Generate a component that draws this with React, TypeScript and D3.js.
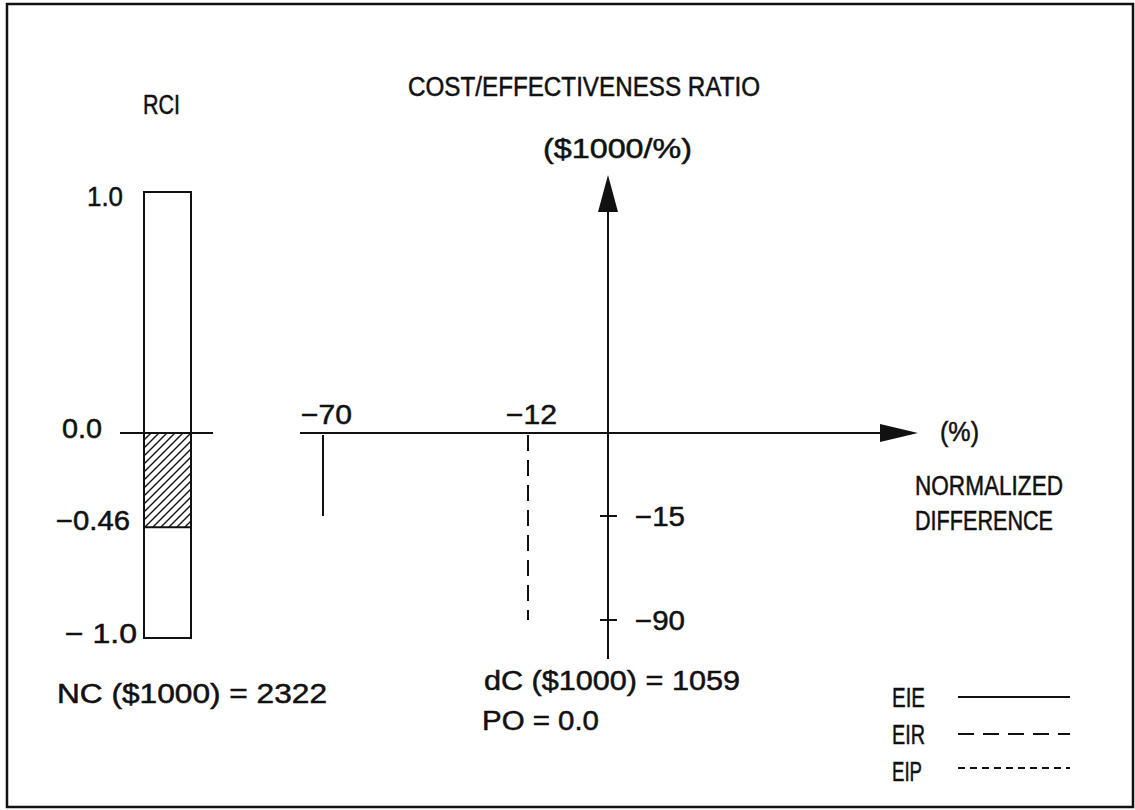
import React from "react";
import * as d3 from "d3";

// ---- data ----
const rciTickValues = [1.0, 0.0, -0.46, -1.0];
const rciTickLabels = ["1.0", "0.0", "\u22120.46", "\u2212 1.0"];
const rciValue = -0.46;

const seriesNames = ["EIE", "EIR", "EIP"];
const seriesDash = ["none", "16,9", "7,5"];
const diffValues = [-70, -12]; // normalized difference (%) for EIE, EIR
const diffLabels = ["\u221270", "\u221212"];
const ratioValues = [-15, -90]; // cost/effectiveness ratio ($1000/%)
const ratioTickValues = [-15, -90];
const ratioTickLabels = ["\u221215", "\u221290"];

const ncValue = "2322";
const dcValue = "1059";
const poValue = "0.0";

const FONT = "'Liberation Sans', Arial, sans-serif";

export default function App() {
  const W = 1135;
  const H = 810;

  // RCI column scale (schematic, piecewise)
  const rciY = d3.scaleLinear().domain([-1, 0, 1]).range([638, 433, 192]);
  // main chart scales (schematic, piecewise)
  const xS = d3.scaleLinear().domain([-70, -12, 0]).range([323, 528, 608]);
  const yS = d3.scaleLinear().domain([-90, -15, 0]).range([620, 516, 433]);

  const x0 = xS(0);
  const y0 = yS(0);
  const barX0 = 144;
  const barX1 = 191;

  const txt = (
    s: string,
    x: number,
    y: number,
    len?: number,
    size = 27,
    key?: string
  ) => (
    <text
      key={key}
      x={x}
      y={y}
      fontFamily={FONT}
      fontSize={size}
      fill="#111"
      stroke="#111"
      strokeWidth={0.5}
      textLength={len}
      lengthAdjust={len ? "spacingAndGlyphs" : undefined}
    >
      {s}
    </text>
  );

  const rciLabelPos = [
    { x: 87, w: 36, b: 206 },
    { x: 62, w: 40, b: 438 },
    { x: 56, w: 74, b: 530 },
    { x: 65, w: 72, b: 643 },
  ];

  const stroke = "#111";

  return (
    <svg
      width={W}
      height={H}
      style={{ position: "absolute", left: 0, top: 0, background: "#fff" }}
    >
      <defs>
        <pattern id="hatch" patternUnits="userSpaceOnUse" width={8} height={8}>
          <path
            d="M-2,2 l4,-4 M0,8 l8,-8 M6,10 l4,-4"
            stroke={stroke}
            strokeWidth={1.4}
          />
        </pattern>
      </defs>
      <rect x={0} y={0} width={W} height={H} fill="#fff" />
      {/* frame */}
      <rect
        x={7}
        y={4}
        width={1126}
        height={803}
        fill="none"
        stroke={stroke}
        strokeWidth={2.5}
      />

      {/* RCI column */}
      {txt("RCI", 143, 114, 37)}
      <rect
        x={barX0}
        y={rciY(1)}
        width={barX1 - barX0}
        height={rciY(-1) - rciY(1)}
        fill="none"
        stroke={stroke}
        strokeWidth={2}
      />
      <rect
        x={barX0 + 1}
        y={rciY(0)}
        width={barX1 - barX0 - 2}
        height={rciY(rciValue) - rciY(0)}
        fill="url(#hatch)"
      />
      <line
        x1={barX0}
        x2={barX1}
        y1={rciY(rciValue)}
        y2={rciY(rciValue)}
        stroke={stroke}
        strokeWidth={2}
      />
      <line
        x1={120}
        x2={213}
        y1={rciY(0)}
        y2={rciY(0)}
        stroke={stroke}
        strokeWidth={2}
      />
      {rciTickValues.map((v, i) =>
        txt(
          rciTickLabels[i],
          rciLabelPos[i].x,
          rciLabelPos[i].b,
          rciLabelPos[i].w,
          27,
          "rl" + i
        )
      )}

      {/* titles */}
      {txt("COST/EFFECTIVENESS RATIO", 408, 96, 352)}
      {txt("($1000/%)", 543, 158, 149)}

      {/* axes */}
      <line x1={300} x2={882} y1={y0} y2={y0} stroke={stroke} strokeWidth={2} />
      <polygon points={`918,${y0} 880,${y0 - 9} 880,${y0 + 9}`} fill={stroke} />
      <line x1={x0} x2={x0} y1={659} y2={210} stroke={stroke} strokeWidth={2} />
      <polygon points={`${x0},175 ${x0 - 10},212 ${x0 + 10},212`} fill={stroke} />
      {txt("(%)", 940, 441, 39)}
      {txt("NORMALIZED", 915, 495, 148)}
      {txt("DIFFERENCE", 915, 530, 138)}

      {/* y ticks */}
      {ratioTickValues.map((v, i) => (
        <g key={"yt" + i}>
          <line
            x1={x0 - 8}
            x2={x0 + 9}
            y1={yS(v)}
            y2={yS(v)}
            stroke={stroke}
            strokeWidth={2}
          />
          {txt(ratioTickLabels[i], 635, yS(v) + 10, 50)}
        </g>
      ))}

      {/* series marks */}
      {diffValues.map((d, i) => (
        <g key={"s" + i}>
          <line
            x1={xS(d)}
            x2={xS(d)}
            y1={y0 + 2}
            y2={yS(ratioValues[i])}
            stroke={stroke}
            strokeWidth={2}
            strokeDasharray={seriesDash[i]}
          />
          {txt(diffLabels[i], xS(d) - 22, 424, 51)}
        </g>
      ))}

      {/* annotations */}
      {txt(`NC ($1000) = ${ncValue}`, 57, 703, 270)}
      {txt(`dC ($1000) = ${dcValue}`, 484, 690, 256)}
      {txt(`PO = ${poValue}`, 482, 730, 117)}

      {/* legend */}
      {seriesNames.map((s, i) => {
        const ly = [697, 734, 768][i];
        const lb = [707, 744, 781][i];
        return (
          <g key={"lg" + i}>
            {txt(s, 892, lb, s === "EIP" ? 30 : 33)}
            <line
              x1={958}
              x2={1070}
              y1={ly}
              y2={ly}
              stroke={stroke}
              strokeWidth={2}
              strokeDasharray={seriesDash[i] === "none" ? undefined : seriesDash[i]}
            />
          </g>
        );
      })}
    </svg>
  );
}
